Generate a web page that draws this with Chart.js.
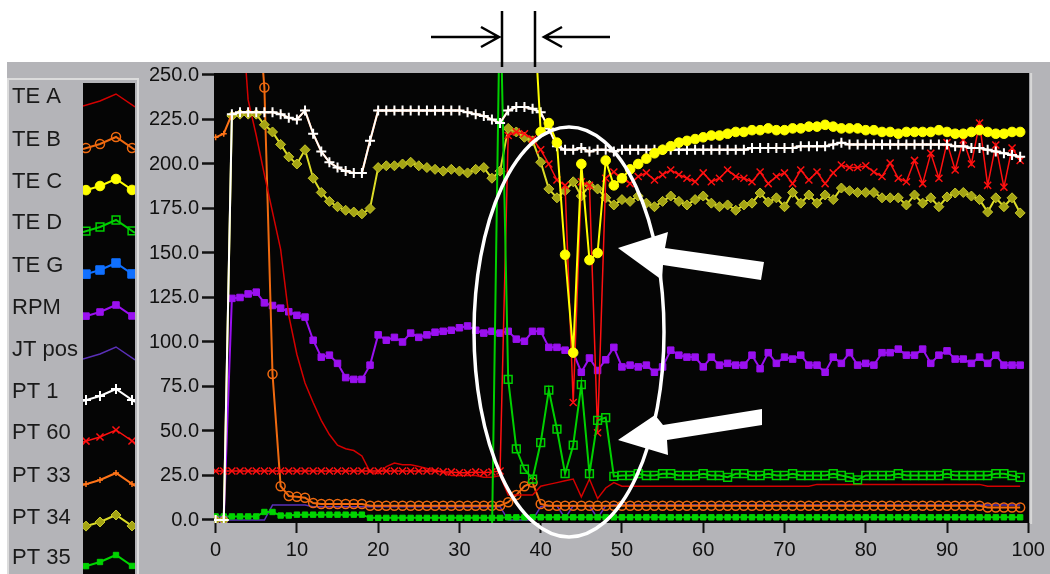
<!DOCTYPE html>
<html><head><meta charset="utf-8">
<script src="https://cdn.jsdelivr.net/npm/chart.js@4.4.1/dist/chart.umd.min.js"></script>
<style>html,body{margin:0;padding:0;background:#fff;overflow:hidden}canvas{display:block}</style>
</head><body>
<canvas id="c" width="1050" height="574"></canvas>
<script>
// ---- data ----
const xVals = [0,1,2,3,4,5,6,7,8,9,10,11,12,13,14,15,16,17,18,19,20,21,22,23,24,25,26,27,28,29,30,31,32,33,34,35,36,37,38,39,40,41,42,43,44,45,46,47,48,49,50,51,52,53,54,55,56,57,58,59,60,61,62,63,64,65,66,67,68,69,70,71,72,73,74,75,76,77,78,79,80,81,82,83,84,85,86,87,88,89,90,91,92,93,94,95,96,97,98,99];
const xTicks = [0,10,20,30,40,50,60,70,80,90,100];
const yTicks = [0,25,50,75,100,125,150,175,200,225,250];
const seriesNames = ['TE A','TE B','TE C','TE D','TE G','RPM','JT pos','PT 1','PT 60','PT 33','PT 34','PT 35'];

const teA = [300,300,300,300,236,216,194,173,152,115, 93,77,66,56,48,42,40,39,36,27, 26,30,32,31,31,30,29,28,27,25, 25,25,25,24,24,25,14,14,14,14, 19,20,21,22,23,13,23,12,18,21, 19,19,19,19,19,19,19,19,19,19, 19,19,19,19,19,19,19,19,19,19, 19,19,19,19,20,20,20,20,20,20, 20,20,20,20,20,20,20,20,20,20, 20,20,20,20,20,19,19,19,19,19];
const teB = [300,300,300,300,300,300,243,82,19,13.5, 13,12.5,9.5,9,9,9,9,9,9,8, 8,8,8,8,8,8,8,8,8,8, 8,8,8,8,8,8,10,14,19,21, 9,8,8,8,8,8,8,8,8,8, 8,8,8,8,8,8,8,8,8,8, 8,8,8,8,8,8,8,8,8,8, 8,8,8,8,8,8,8,8,8,8, 8,8,8,8,8,8,8,8,8,8, 8,8,8,8,8,7,7,7,7,7];
const teC = [300,300,300,300,300,300,300,300,300,300, 300,300,300,300,300,300,300,300,300,300, 300,300,300,300,300,300,300,300,300,300, 300,300,300,300,300,300,300,300,300,300, 218,223,212,149,94,200,146,150,202,188, 192,197,200,203,206,208,210,212,213,214, 215,216,216,217,218,218,219,219,220,219, 219,220,220,221,221,222,221,220,220,220, 219,219,218,218,217,218,218,218,218,219, 218,217,217,218,219,218,217,217,218,218];
const teD = [-10,-10,-10,-10,-10,-10,-10,-10,-10,-10, -10,-10,-10,-10,-10,-10,-10,-10,-10,-10, -10,-10,-10,-10,-10,-10,-10,-10,-10,-10, -10,-10,-10,-10,-10,300,79,40,28.5,23, 43.5,73,51,26,42,76,26,56,57.5,24.5, 25,25,26,25,25,26,26,25,25,25, 26,25,25,24,26,26,25,25,26,25, 25,26,25,25,25,25,26,25,24,22.5, 25,25,25,25,26,25,25,25,25,25, 26,25,25,25,25,25,26,26,25,24];
const teG = [-10,-10,-10,-10,-10,-10,-10,-10,-10,-10, -10,-10,-10,-10,-10,-10,-10,-10,-10,-10, -10,-10,-10,-10,-10,-10,-10,-10,-10,-10, -10,-10,-10,-10,-10,-10,-10,-10,-10,-10, -10,-10,-10,-10,-10,-10,-10,-10,-10,-10, -10,-10,-10,-10,-10,-10,-10,-10,-10,-10, -10,-10,-10,-10,-10,-10,-10,-10,-10,-10, -10,-10,-10,-10,-10,-10,-10,-10,-10,-10, -10,-10,-10,-10,-10,-10,-10,-10,-10,-10, -10,-10,-10,-10,-10,-10,-10,-10,-10,-10];
const rpm = [0,0,124.5,125,127,128,122,120.5,119,117, 115,114,101,91.5,92.6,88,80,79,79,87, 104,101,102.6,100,105,102.6,104,105.5,106,106.6, 108,109,106.6,105,106,105,106,101.6,100.4,106, 106,97,97,95.4,94,83,91,84,90,97, 86,87,86,87,83,86,95.4,92.6,91.5,91.5, 86,91.5,87,88,87,87,92.6,85,94,88, 91.5,90.4,92.6,87,87,83,91.5,88,94,87, 88,87,94,94,96,92.6,92.6,96,88,92.6, 95,90.4,90.4,88,91.5,88,92.6,87,87,87];
const jtPos = [0,0,0,0,0,0,0,8.4,8.4,8.4, 8.4,8.4,7.5,7.5,7.5,7.5,7.5,7.5,7.5,7.5, 7.5,7.5,7.5,7.5,7.5,7.5,7.5,7.5,7.5,7.5, 7.5,7.5,7.5,7.5,7.5,7.5,0,0,0,0, 7.5,8,8,1,8,8,8,1,8,8.4, 8.4,8.4,8.4,8.4,8.4,8.4,8.4,8.4,8.4,8.4, 8.4,8.4,8.4,8.4,8.4,8.4,8.4,8.4,8.4,8.4, 8.4,8.4,8.4,8.4,8.4,8.4,8.4,8.4,8.4,8.4, 8.4,8.4,8.4,8.4,8.4,8.4,8.4,8.4,8.4,8.4, 8.4,8.4,8.4,8.4,8.4,8.4,8.4,8.4,8.4,8.4];
const pt1 = [0,0,228,229,229,229,229,229,228,226, 225,230,217,207,201,198,196,195,195,213, 230,230,230,230,230,230,230,230,230,230, 230,229,228,227,225,223,230,232,232,231, 229,220,210,208,208,209,207,208,208,207, 208,208,208,208,208,208,208,208,208,208, 208,208,208,208,208,208,209,209,209,209, 209,209,210,210,210,210,211,212,211,211, 211,211,211,211,211,211,211,211,211,211, 211,210,210,209,209,208,207,206,205,204];
const pt60 = [27.5,27.5,27.5,27.5,27.5,27.5,27.5,27.5,27.5,27.5, 27.5,27.5,27.5,27.5,27.5,27.5,27.5,27.5,27.5,27.5, 27.5,27.5,27.5,27.5,27.5,27.5,27.5,27.5,27,27, 26.5,26.5,27,26.5,27,27.5,216,218,217,214, 208,200,191,188,66,190,188,49,192,195.5, 192,189,193,195,191,194,196.6,194,192,190, 195,190,192,196.6,193,192,190,195.5,189,193, 195,189,196.6,191,195.5,189,195,199.4,198,198, 199,195.5,193,200.5,192,190,202,189,206,192, 212,196.6,213.5,200,223,188,210.7,187,209,202];
const pt33 = [215,217,228,229,229,229,229,229,228,226, 225,230,217,207,201,198,196,195,195,213, 230,230,230,230,230,230,230,230,230,230, 230,229,228,227,225,223,230,232,232,231, 229,220,210,208,208,209,207,208,208,207, 208,208,208,208,208,208,208,208,208,208, 208,208,208,208,208,208,209,209,209,209, 209,209,210,210,210,210,211,212,211,211, 211,211,211,211,211,211,211,211,211,211, 211,210,210,209,209,208,207,206,205,204];
const pt34 = [0,0,227,228,228,228,222,218,211,204, 200,208,192,184,179,176,174,173,172,175, 198,199,199,200,201,199,198,197,196,197, 196,195,197,198,192,196,220,218,215,213, 201,186,181,185,190,182,188,186,181,177, 180,179,182,178,176,179,182,179,177,180, 182,178,176,177,174,177,178,183.7,178.6,181, 176,184,178,182.6,178,182.6,180,186.5,185,184, 184,184,181,181,181,177,182.6,178,181,176, 181.5,183.7,184,182,180,173,181,176,181,172.5];
const pt35 = [2,2,2,2,2,2,4.5,4.5,2.5,2.5, 3,3,3,3,3,3,3,3,3,1.2, 1.2,1.2,1.2,1.2,1.2,1.2,1.2,1.2,1.2,1.2, 1.2,1.2,1.2,1.2,1.2,1.2,1.5,1.5,1.5,1.5, 1.5,1.5,1.5,1.5,1.5,1.5,1.5,1.5,1.5,1.5, 1.5,1.5,1.5,1.5,1.5,1.5,1.5,1.5,1.5,1.5, 1.5,1.5,1.5,1.5,1.5,1.5,1.5,1.5,1.5,1.5, 1.5,1.5,1.5,1.5,1.5,1.5,1.5,1.5,1.5,1.5, 1.5,1.5,1.5,1.5,1.5,1.5,1.5,1.5,1.5,1.5, 1.5,1.5,1.5,1.5,1.5,1.5,1.5,1.5,1.5,1.5];

const seriesValues = [teA,teB,teC,teD,teG,rpm,jtPos,pt1,pt60,pt33,pt34,pt35];

// ---- styles ----
const styles = [
  {c:'#d40000', w:1.5, ps:'circle', r:0, bg:'#d40000', bc:'#d40000', bw:1, o:7},
  {c:'#f06a10', w:2, ps:'circle', r:4.5, bg:'rgba(0,0,0,0)', bc:'#f06a10', bw:1.5, o:8},
  {c:'#ffff00', w:2, ps:'circle', r:4.8, bg:'#ffff00', bc:'#ffff00', bw:1, o:1},
  {c:'#00d000', w:2, ps:'rect', r:5.5, bg:'rgba(0,0,0,0)', bc:'#00d000', bw:1.5, o:4},
  {c:'#1070ff', w:2, ps:'rect', r:6, bg:'#1070ff', bc:'#1070ff', bw:1, o:12},
  {c:'#9a10f0', w:2, ps:'rect', r:4.6, bg:'#9a10f0', bc:'#9a10f0', bw:1, o:9},
  {c:'#5a30b8', w:1.5, ps:'circle', r:0, bg:'#5a30b8', bc:'#5a30b8', bw:1, o:11},
  {c:'#ffffff', w:2, ps:'cross', r:5, bg:'#ffffff', bc:'#ffffff', bw:2, o:2},
  {c:'#ff1010', w:1.5, ps:'crossRot', r:5, bg:'#ff1010', bc:'#ff1010', bw:1.5, o:5},
  {c:'#ff7418', w:2, ps:'cross', r:3, bg:'#ff7418', bc:'#ff7418', bw:1.5, o:3},
  {c:'#dcdc28', w:2, ps:'rectRot', r:5, bg:'#a4a414', bc:'#c8c828', bw:1, o:6},
  {c:'#00d400', w:2, ps:'rect', r:3.8, bg:'#00d400', bc:'#00d400', bw:1, o:10}
];

const datasets = seriesNames.map((name, k) => {
  const s = styles[k];
  return {
    label: name,
    data: xVals.map((x, i) => ({x: x, y: seriesValues[k][i]})),
    borderColor: s.c, borderWidth: s.w, backgroundColor: s.c,
    pointStyle: s.ps, pointRadius: s.r, pointBackgroundColor: s.bg,
    pointBorderColor: s.bc, pointBorderWidth: s.bw, pointHoverRadius: s.r,
    tension: 0, fill: false, order: s.o
  };
});

const FONT = '"Liberation Sans", Arial, sans-serif';

function drawMarker(ctx, s, x, y) {
  if (!s.r) return;
  const r = s.r;
  ctx.save();
  ctx.lineWidth = s.bw; ctx.strokeStyle = s.bc; ctx.fillStyle = s.bg;
  ctx.beginPath();
  let fillable = true;
  if (s.ps === 'circle') ctx.arc(x, y, r, 0, Math.PI * 2);
  else if (s.ps === 'rect') { const h = r * Math.SQRT1_2; ctx.rect(x - h, y - h, 2 * h, 2 * h); }
  else if (s.ps === 'rectRot') { ctx.moveTo(x, y - r); ctx.lineTo(x + r, y); ctx.lineTo(x, y + r); ctx.lineTo(x - r, y); ctx.closePath(); }
  else if (s.ps === 'cross') { fillable = false; ctx.moveTo(x, y - r); ctx.lineTo(x, y + r); ctx.moveTo(x - r, y); ctx.lineTo(x + r, y); }
  else if (s.ps === 'crossRot') { fillable = false; const h = r * Math.SQRT1_2; ctx.moveTo(x - h, y - h); ctx.lineTo(x + h, y + h); ctx.moveTo(x + h, y - h); ctx.lineTo(x - h, y + h); }
  if (fillable) ctx.fill();
  ctx.stroke();
  ctx.restore();
}

const legendY = [97,140,182,223,266,308,350,392,433,476,518,558];

const framePlugin = {
  id: 'frame',
  beforeDraw(chart) {
    const ctx = chart.ctx, a = chart.chartArea;
    ctx.save();
    ctx.fillStyle = '#ffffff'; ctx.fillRect(0, 0, 1050, 574);
    ctx.fillStyle = '#b4b4b8'; ctx.fillRect(7, 62, 1043, 512);
    // legend box border
    ctx.strokeStyle = '#dcdcdc'; ctx.lineWidth = 2;
    ctx.beginPath(); ctx.moveTo(8, 574); ctx.lineTo(8, 79); ctx.lineTo(138, 79); ctx.lineTo(138, 574); ctx.stroke();
    ctx.fillStyle = '#050505'; ctx.fillRect(83, 83, 52, 491);
    // plot area
    ctx.fillStyle = '#050505'; ctx.fillRect(a.left, a.top, a.right - a.left, a.bottom - a.top);
    ctx.strokeStyle = '#d8d8d8'; ctx.lineWidth = 2;
    ctx.beginPath(); ctx.moveTo(a.right + 2, a.top); ctx.lineTo(a.right + 2, a.bottom + 1); ctx.stroke();
    ctx.restore();
  },
  afterDraw(chart) {
    const ctx = chart.ctx;
    ctx.save();
    // legend
    const sx = [83, 100, 116, 135], sy = [9, 4, -3, 10];
    const mx = [86, 100, 116, 132];
    seriesNames.forEach((name, k) => {
      const s = styles[k], yc = legendY[k];
      ctx.fillStyle = '#1a1a1a'; ctx.font = '22px ' + FONT;
      ctx.textBaseline = 'middle'; ctx.textAlign = 'left';
      ctx.fillText(name, 12, yc);
      ctx.save();
      ctx.beginPath(); ctx.rect(83, 83, 52, 491); ctx.clip();
      ctx.strokeStyle = s.c; ctx.lineWidth = s.w;
      ctx.beginPath();
      sx.forEach((x, i) => { const y = yc + sy[i]; if (i === 0) ctx.moveTo(x, y); else ctx.lineTo(x, y); });
      ctx.stroke();
      const interp = x => { for (let i = 0; i < 3; i++) { if (x <= sx[i + 1]) { const t = (x - sx[i]) / (sx[i + 1] - sx[i]); return yc + sy[i] + t * (sy[i + 1] - sy[i]); } } return yc + sy[3]; };
      mx.forEach(x => drawMarker(ctx, s, x, interp(x)));
      ctx.restore();
    });
    // top arrows
    ctx.strokeStyle = '#000'; ctx.lineWidth = 2.5; ctx.lineCap = 'butt';
    ctx.beginPath();
    ctx.moveTo(431, 37); ctx.lineTo(499, 37);
    ctx.moveTo(481, 27); ctx.lineTo(499, 37); ctx.lineTo(481, 47);
    ctx.moveTo(502, 11); ctx.lineTo(502, 67);
    ctx.moveTo(535, 11); ctx.lineTo(535, 67);
    ctx.moveTo(610, 37); ctx.lineTo(545, 37);
    ctx.moveTo(562, 27); ctx.lineTo(544, 37); ctx.lineTo(562, 47);
    ctx.stroke();
    // ellipse
    ctx.strokeStyle = '#ffffff'; ctx.lineWidth = 3.5;
    ctx.beginPath(); ctx.ellipse(569, 332, 95, 205, 0, 0, Math.PI * 2); ctx.stroke();
    // block arrows
    ctx.fillStyle = '#ffffff';
    const arrows = [
      [[618,248],[668,232],[665,248],[764,262],[761,280],[663,265],[662,280]],
      [[618,440],[655,415],[663,425],[762,409],[762,425],[667,440],[668,455]]
    ];
    arrows.forEach(p => { ctx.beginPath(); p.forEach((q, i) => i ? ctx.lineTo(q[0], q[1]) : ctx.moveTo(q[0], q[1])); ctx.closePath(); ctx.fill(); });
    ctx.restore();
  }
};

new Chart(document.getElementById('c'), {
  type: 'line',
  data: { datasets },
  options: {
    responsive: false, animation: false, devicePixelRatio: 1,
    events: [],
    layout: { padding: { left: 0, right: 18.5, top: 73, bottom: 0 } },
    plugins: { legend: { display: false }, tooltip: { enabled: false }, title: { display: false } },
    scales: {
      x: {
        type: 'linear', min: -0.2, max: 100.1,
        afterBuildTicks: s => { s.ticks = xTicks.map(v => ({ value: v })); },
        afterFit: s => { s.height = 51; },
        grid: { drawOnChartArea: false, drawTicks: true, tickLength: 10, tickColor: '#111', tickWidth: 2 },
        border: { display: false },
        ticks: { color: '#111', font: { family: FONT, size: 20 }, padding: 5, maxRotation: 0, autoSkip: false }
      },
      y: {
        type: 'linear', min: -1.69, max: 251.12,
        afterBuildTicks: s => { s.ticks = yTicks.map(v => ({ value: v })); },
        afterFit: s => { s.width = 214; },
        grid: { drawOnChartArea: false, drawTicks: true, tickLength: 12, tickColor: '#111', tickWidth: 2.5 },
        border: { display: false },
        ticks: { color: '#111', font: { family: FONT, size: 20 }, padding: 3, callback: v => Number(v).toFixed(1) }
      }
    }
  },
  plugins: [framePlugin]
});
</script>
</body></html>
